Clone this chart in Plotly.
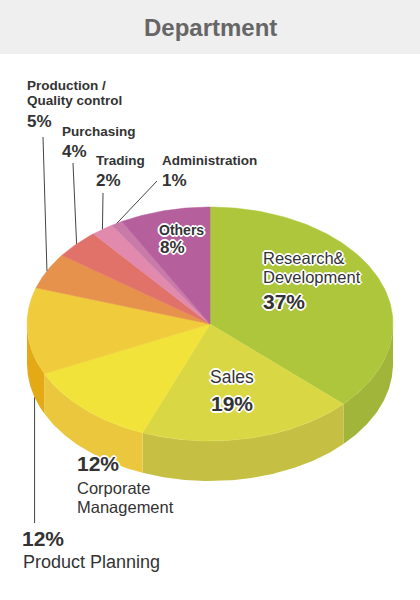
import numpy as np
import plotly.graph_objects as go

# data: slices clockwise from 12 o'clock
departments = [
    "Research& Development",
    "Sales",
    "Corporate Management",
    "Product Planning",
    "Production / Quality control",
    "Purchasing",
    "Trading",
    "Administration",
    "Others",
]
shares = [37, 19, 12, 12, 5, 4, 2, 1, 8]
pct_labels = [f"{v}%" for v in shares]

top_colors = ["#adc63c", "#d9d844", "#f2e33a", "#f0cb3c", "#e6914c",
              "#e0726a", "#e28aae", "#c97aa9", "#b5609d"]
side_colors = ["#a2b53b", "#c5c043", "#eac73d", "#e3aa16", "#d9803f",
               "#d0605a", "#d07898", "#b86a98", "#a0508a"]

# geometry of the tilted pie, in page pixels (y grows downward)
CX, CY, RX, RY, DEPTH = 210, 324, 183, 117, 40
FONT = "Liberation Sans, Arial, sans-serif"
INK = "#333333"
HALO = ("white 1px 1px 0, white -1px -1px 0, white 1px -1px 0, white -1px 1px 0,"
        "white 0 2px 0, white 2px 0 0, white -2px 0 0, white 0 -2px 0")


def ellipse_pt(deg, drop=0.0):
    t = np.radians(deg)
    return CX + RX * np.sin(t), CY - RY * np.cos(t) + drop


total = sum(shares)
bounds = np.concatenate([[0], np.cumsum(shares)]) / total * 360.0

fig = go.Figure()

# side faces (only the front half, 90..270 deg, is visible)
for i in range(len(shares)):
    a, b = max(bounds[i], 90), min(bounds[i + 1], 270)
    if b <= a:
        continue
    ang = np.linspace(a, b, 80)
    xt, yt = ellipse_pt(ang)
    xb, yb = ellipse_pt(ang[::-1], DEPTH)
    fig.add_trace(go.Scatter(
        x=np.concatenate([xt, xb]), y=np.concatenate([yt, yb]),
        fill="toself", fillcolor=side_colors[i], mode="lines",
        line=dict(width=0, color=side_colors[i]), hoverinfo="skip",
        showlegend=False,
    ))

# top wedges
for i, name in enumerate(departments):
    ang = np.linspace(bounds[i], bounds[i + 1], 120)
    xe, ye = ellipse_pt(ang)
    fig.add_trace(go.Scatter(
        x=np.concatenate([[CX], xe, [CX]]), y=np.concatenate([[CY], ye, [CY]]),
        fill="toself", fillcolor=top_colors[i], mode="lines",
        line=dict(width=0.5, color=top_colors[i]), name=name,
        hovertemplate=f"{name}: {pct_labels[i]}<extra></extra>",
        showlegend=False,
    ))

# label lines per slice: (text or None for the percent, x, y, size, bold)
label_lines = {
    0: [("Research&", 263, 260, 16.5, False), ("Development", 263, 279, 16.5, False),
        (None, 263, 304, 21, True)],
    1: [("Sales", 210, 379, 17.5, False), (None, 211, 406, 21, True)],
    2: [(None, 77, 466, 21, True), ("Corporate", 77, 490, 16.5, False),
        ("Management", 77, 509, 16.5, False)],
    3: [(None, 22, 541, 21, True), ("Product Planning", 23, 563, 18, False)],
    4: [("Production /", 27, 87, 13.5, True), ("Quality control", 27, 102, 13.5, True),
        (None, 27, 123, 17, True)],
    5: [("Purchasing", 62, 133, 13.5, True), (None, 62, 153, 17, True)],
    6: [("Trading", 96, 162, 13.5, True), (None, 96, 182, 17, True)],
    7: [("Administration", 162, 162, 13.5, True), (None, 162, 182, 17, True)],
    8: [("Others", 159, 231, 14, True), (None, 160, 249, 17, True)],
}
halo_slices = {0, 1, 2, 8}

for i, lines in label_lines.items():
    for txt, x, y, size, bold in lines:
        s = pct_labels[i] if txt is None else txt
        if bold:
            s = f"<b>{s}</b>"
        font = dict(family=FONT, size=size, color=INK)
        if i in halo_slices:
            font["shadow"] = HALO
        fig.add_trace(go.Scatter(
            x=[x], y=[y], mode="text", text=[s], textposition="middle right",
            textfont=font, hoverinfo="skip", showlegend=False,
        ))

# leader lines: (slice index, label-end x, label-end y, anchor fraction in slice, on bottom rim)
leaders = [
    (4, 43, 137, 0.5, False),
    (5, 73, 163, 0.5, False),
    (6, 103, 193, 0.5, False),
    (7, 157, 181, 0.5, False),
    (3, None, 523, 0.2, True),
]
shapes = [dict(type="rect", xref="x", yref="y", x0=0, x1=420, y0=0, y1=54,
               fillcolor="#efefef", line=dict(width=0), layer="below")]
for i, lx, ly, frac, rim in leaders:
    deg = bounds[i] + frac * (bounds[i + 1] - bounds[i])
    px, py = ellipse_pt(deg, DEPTH if rim else 0)
    if lx is None:
        lx = px
    shapes.append(dict(type="line", xref="x", yref="y", x0=lx, y0=ly, x1=px, y1=py,
                       line=dict(color="#444444", width=1)))

fig.update_layout(
    width=420, height=600,
    margin=dict(l=0, r=0, t=0, b=0),
    paper_bgcolor="white", plot_bgcolor="white",
    xaxis=dict(range=[0, 420], visible=False, fixedrange=True),
    yaxis=dict(range=[600, 0], visible=False, fixedrange=True),
    shapes=shapes,
    annotations=[dict(
        x=210, y=27, text="<b>Department</b>", showarrow=False,
        font=dict(family=FONT, size=24, color="#666666"),
        xanchor="center", yanchor="middle",
    )],
)

fig.write_html("out.html", config={"displayModeBar": False},
               post_script="document.body.style.margin='0';")
